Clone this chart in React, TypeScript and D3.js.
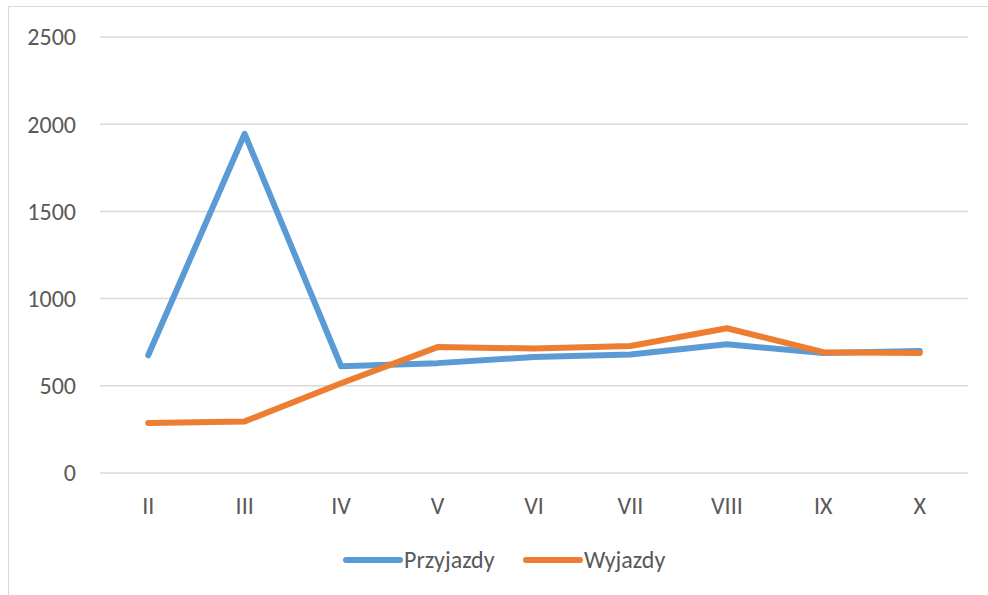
import React from "react";
import * as d3 from "d3";

const months = ["II", "III", "IV", "V", "VI", "VII", "VIII", "IX", "X"];
const przyjazdy = [675, 1945, 612, 630, 665, 680, 738, 688, 700];
const wyjazdy = [287, 296, 515, 722, 714, 728, 830, 693, 688];
const yTicks = [0, 500, 1000, 1500, 2000, 2500];

const W = 988;
const H = 595;
const left = 100;
const right = 968;
const top = 37;
const bottom = 473;
const font = "Carlito, 'Open Sans', 'Liberation Sans', sans-serif";

export default function App() {
  const x = d3.scalePoint<string>().domain(months).range([left, right]).padding(0.5);
  const y = d3.scaleLinear().domain([0, 2500]).range([bottom, top]);

  const line = d3
    .line<number>()
    .x((_, i) => x(months[i]) as number)
    .y((d) => y(d));

  const series = [
    { name: "Przyjazdy", values: przyjazdy, color: "#5B9BD5" },
    { name: "Wyjazdy", values: wyjazdy, color: "#ED7D31" },
  ];

  return (
    <svg
      width={W}
      height={H}
      style={{ position: "absolute", left: 0, top: 0 }}
      fontFamily={font}
    >
      <rect x={0} y={0} width={W} height={H} fill="#fff" />
      <rect x={8.5} y={6.5} width={W + 10} height={H + 10} fill="none" stroke="#d9d9d9" />
      {yTicks.map((t) => (
        <g key={t}>
          <line x1={left} x2={right} y1={y(t)} y2={y(t)} stroke="#d9d9d9" strokeWidth={1.5} />
          <text
            x={76}
            y={y(t)}
            dy="0.35em"
            textAnchor="end"
            fontSize={24}
            fill="#595959"
          >
            {t}
          </text>
        </g>
      ))}
      {months.map((m) => (
        <text
          key={m}
          x={x(m)}
          y={506}
          dy="0.35em"
          textAnchor="middle"
          fontSize={24}
          fill="#595959"
        >
          {m}
        </text>
      ))}
      {series.map((s) => (
        <path
          key={s.name}
          d={line(s.values) ?? ""}
          fill="none"
          stroke={s.color}
          strokeWidth={6}
          strokeLinejoin="round"
          strokeLinecap="round"
        />
      ))}
      {series.map((s, i) => {
        const lx = 346 + i * 180;
        return (
          <g key={s.name}>
            <line
              x1={lx}
              x2={lx + 54}
              y1={560}
              y2={560}
              stroke={s.color}
              strokeWidth={6}
              strokeLinecap="round"
            />
            <text x={lx + 58} y={560} dy="0.35em" fontSize={24} fill="#595959">
              {s.name}
            </text>
          </g>
        );
      })}
    </svg>
  );
}
